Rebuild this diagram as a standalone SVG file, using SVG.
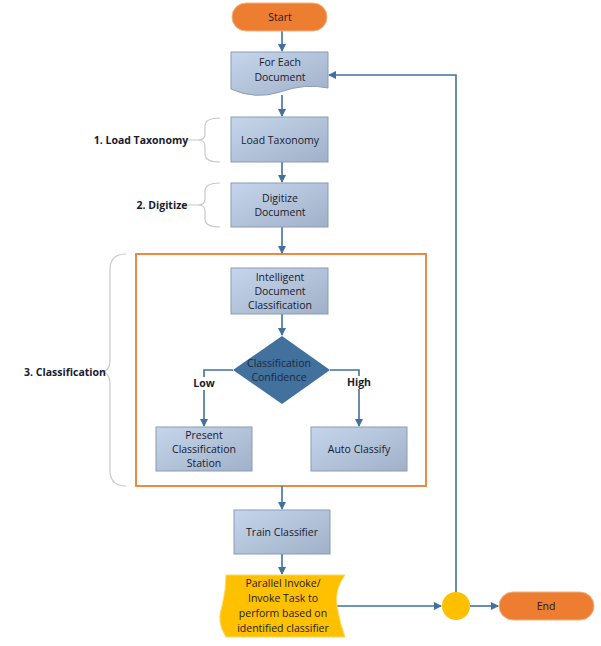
<svg xmlns="http://www.w3.org/2000/svg" width="601" height="646" viewBox="0 0 601 646">
<style>
text{font-family:"Open Sans","Liberation Sans",sans-serif;font-size:10.5px;fill:#1a1a2e;text-anchor:middle}
.b{font-weight:bold}
.box{fill:url(#g);stroke:#8a9bb5;stroke-width:1}
.pill{fill:#ed7d31;stroke:#f4b183;stroke-width:1}
.c{fill:none;stroke:#41719c;stroke-width:1.6}
.br{fill:none;stroke:#c8c8c8;stroke-width:1.2}
</style>
<defs>
<linearGradient id="g" x1="0" y1="0" x2="1" y2="1"><stop offset="0" stop-color="#c5d6ec"/><stop offset="1" stop-color="#9fb0c8"/></linearGradient>
<marker id="a" markerWidth="8" markerHeight="8" refX="7" refY="4" orient="auto" markerUnits="userSpaceOnUse"><path d="M0,0 L8,4 L0,8 z" fill="#41719c"/></marker>
</defs>
<g id="frame"><rect x="136" y="254" width="290" height="232" fill="none" stroke="#ed7d31" stroke-width="1.8"/></g>
<g id="braces">
<path class="br" d="M220,118 Q205,118 205,126 L205,134 Q205,140 198,140 Q205,140 205,146 L205,154 Q205,162 220,162 M198,140 H188"/>
<text x="141" y="144" class="b">1. Load Taxonomy</text>
<path class="br" d="M220,183 Q205,183 205,191 L205,199 Q205,205 198,205 Q205,205 205,211 L205,219 Q205,227 220,227 M198,205 H188"/>
<text x="162" y="209" class="b">2. Digitize</text>
<path class="br" d="M126,254 Q110,254 110,270 L110,360 Q110,372 100,372 Q110,372 110,384 L110,470 Q110,486 126,486"/>
<text x="65" y="376" class="b">3. Classification</text>
</g>
<g id="connectors">
<path class="c" d="M282,31 V51" marker-end="url(#a)"/>
<path class="c" d="M282,95 V116" marker-end="url(#a)"/>
<path class="c" d="M282,162 V182" marker-end="url(#a)"/>
<path class="c" d="M282,227 V253" marker-end="url(#a)"/>
<path class="c" d="M282,314 V335" marker-end="url(#a)"/>
<path class="c" d="M233,370 H204 V426" marker-end="url(#a)"/>
<path class="c" d="M330,370 H359 V426" marker-end="url(#a)"/>
<path class="c" d="M282,486 V509" marker-end="url(#a)"/>
<path class="c" d="M282,554 V574" marker-end="url(#a)"/>
<path class="c" d="M336,606 H441" marker-end="url(#a)"/>
<path class="c" d="M470,606 H498" marker-end="url(#a)"/>
<path class="c" d="M456,592 V75 H329" marker-end="url(#a)"/>
<rect x="193" y="377" width="22" height="13" fill="#fff"/><text x="204" y="387" class="b">Low</text>
<rect x="346" y="376" width="26" height="13" fill="#fff"/><text x="359" y="386" class="b">High</text>
</g>
<g id="start"><rect class="pill" x="232" y="3" width="95" height="28" rx="14"/><text x="280" y="21">Start</text></g>
<g id="foreach"><path class="box" d="M231,52 H328 V88 Q305,83 280,92 Q255,100 231,89 Z"/><text x="280" y="66">For Each</text><text x="280" y="81">Document</text></g>
<g id="load"><rect class="box" x="231" y="117" width="97" height="45"/><text x="280" y="144">Load Taxonomy</text></g>
<g id="digitize"><rect class="box" x="231" y="183" width="97" height="44"/><text x="280" y="202">Digitize</text><text x="280" y="216">Document</text></g>
<g id="idc"><rect class="box" x="231" y="268" width="97" height="46"/><text x="280" y="281">Intelligent</text><text x="280" y="295">Document</text><text x="280" y="309">Classification</text></g>
<g id="conf"><path d="M282,336 L330,370 L282,404 L233,370 Z" fill="#41719c"/><text x="279" y="367" style="fill:#1a2a40">Classification</text><text x="279" y="381" style="fill:#1a2a40">Confidence</text></g>
<g id="present"><rect class="box" x="156" y="427" width="96" height="44"/><text x="204" y="439">Present</text><text x="204" y="453">Classification</text><text x="204" y="467">Station</text></g>
<g id="auto"><rect class="box" x="311" y="427" width="96" height="44"/><text x="359" y="453">Auto Classify</text></g>
<g id="train"><rect class="box" x="234" y="510" width="96" height="44"/><text x="282" y="536">Train Classifier</text></g>
<g id="parallel"><path d="M226,575 H345 Q334,590 337,606 Q340,624 345,637 H226 Q216,622 222,606 Q226,590 226,575 Z" fill="#ffc000" stroke="#ffd966"/>
<text x="283" y="587">Parallel Invoke/</text><text x="283" y="602">Invoke Task to</text><text x="283" y="617">perform based on</text><text x="283" y="632">identified classifier</text></g>
<g id="merge"><circle cx="456" cy="606" r="14" fill="#ffc000"/></g>
<g id="end"><rect class="pill" x="499" y="592" width="95" height="28" rx="14"/><text x="546" y="610">End</text></g>
</svg>
